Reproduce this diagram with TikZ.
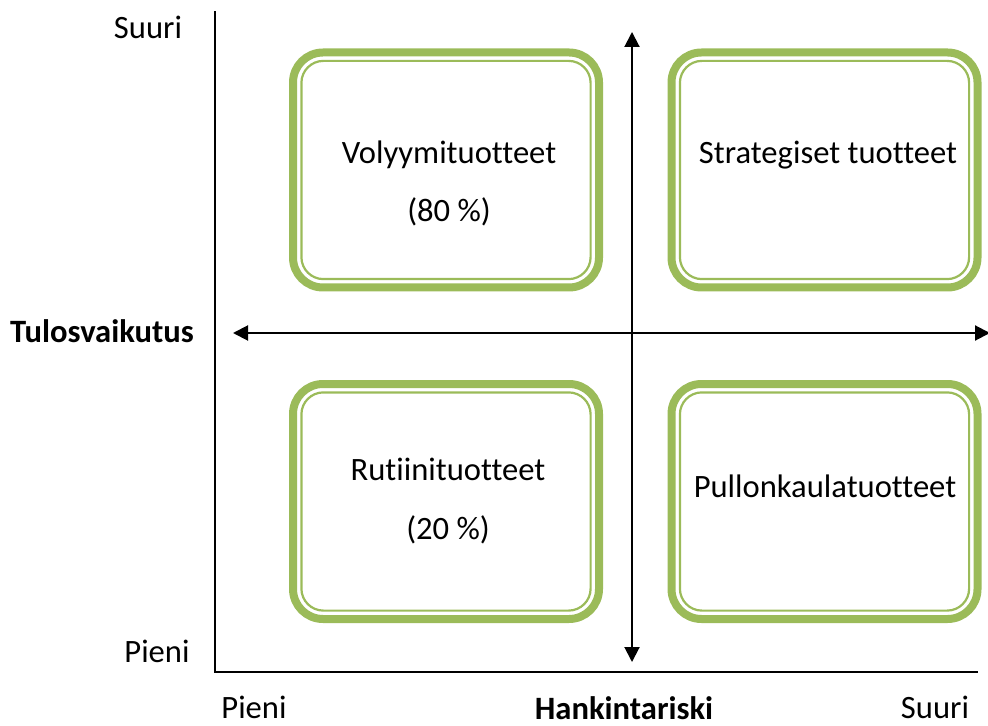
\documentclass[tikz,border=0pt]{standalone}
\usepackage{fontspec}
\setmainfont[Ligatures=NoCommon]{Carlito}
\usetikzlibrary{arrows.meta,calc}
\definecolor{oliivi}{RGB}{155,187,89}
\tikzset{
  >={Triangle[length=7.5pt,width=7.5pt]},
  ruutu/.style={draw=oliivi, line width=4pt, rounded corners=15pt, outer sep=0pt,
    minimum width=#1, minimum height=117.5pt, inner sep=0pt},
  ruutu/.default=153pt,
  sisaruutu/.style={draw=oliivi, line width=1.1pt, rounded corners=11pt},
  teksti/.style={font=\fontsize{16.3}{19}\selectfont, anchor=base, inner sep=0pt},
  akseli/.style={line width=1pt, line cap=rect},
  nuoli/.style={<->, line width=1pt},
}
\begin{document}
\begin{tikzpicture}[x=0.5pt, y=-0.5pt]
    \useasboundingbox (0,0) rectangle (988,726);
    % akselit
    \coordinate (ylaraja) at (215,12);
    \coordinate (origo) at (215,672);
    \coordinate (oikraja) at (977,672);
    \draw[akseli] (ylaraja) -- (origo) -- (oikraja);
    % ruudut
    \node[ruutu] (vol) at (446,170) {};
    \node[ruutu] (str) at (824.5,170) {};
    \node[ruutu] (rut) at (446,501.5) {};
    \node[ruutu] (pul) at (824.5,501.5) {};
    \foreach \r in {vol,str,rut,pul}
      \draw[sisaruutu] ($(\r.south west)+(4.2pt,4.2pt)$) rectangle ($(\r.north east)-(4.2pt,4.2pt)$);
    % nuolet
    \coordinate (ylos) at (632,32);
    \coordinate (alas) at (632,662);
    \coordinate (vasen) at (233,333);
    \coordinate (oikea) at (990,333);
    \draw[nuoli] (alas) -- (ylos);
    \draw[nuoli] (vasen) -- (oikea);
    % tekstit
    \node[teksti] (volt) at (449,164) {Volyymituotteet};
    \node[teksti] (volp) at (449,222) {(80 \%)};
    \node[teksti] (strt) at (828,164) {Strategiset tuotteet};
    \node[teksti] (rutt) at (448,480) {Rutiinituotteet};
    \node[teksti] (rutp) at (448,539) {(20 \%)};
    \node[teksti] (pult) at (825,497) {Pullonkaulatuotteet};
    \node[teksti] (ysuuri) at (148,39) {Suuri};
    \node[teksti] (ypieni) at (157,662) {Pieni};
    \node[teksti, font=\fontsize{16.3}{19}\selectfont\bfseries] (tulos) at (102,343) {Tulosvaikutus};
    \node[teksti] (xpieni) at (254,718) {Pieni};
    \node[teksti, font=\fontsize{16.3}{19}\selectfont\bfseries] (hank) at (624,719) {Hankintariski};
    \node[teksti] (xsuuri) at (935,718) {Suuri};
\end{tikzpicture}
\end{document}
